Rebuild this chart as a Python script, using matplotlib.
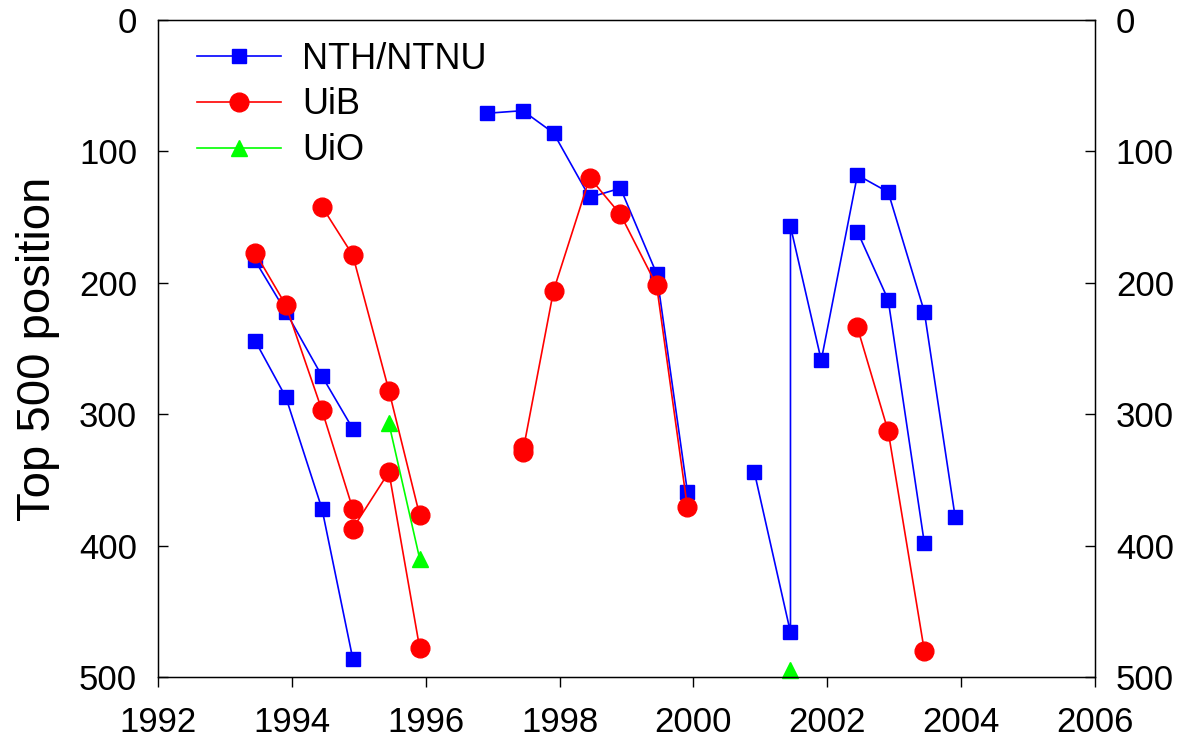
import matplotlib
matplotlib.use("Agg")
import matplotlib.pyplot as plt
import numpy as np

plt.rcParams['font.family'] = ['Liberation Sans', 'DejaVu Sans']

# Top500 list dates (June ~ .45, November ~ .91); nan breaks a line
ntnu_x = np.array([1993.45, 1993.91, 1994.45, 1994.91, np.nan,
                   1993.45, 1993.91, 1994.45, 1994.91, np.nan,
                   1996.91, 1997.45, 1997.91, 1998.45, 1998.91, 1999.45, 1999.91, np.nan,
                   2000.91, 2001.45, 2001.45, 2001.91, 2002.45, 2002.91, 2003.45, 2003.91, np.nan,
                   2002.45, 2002.91, 2003.45])
ntnu_y = np.array([183, 222, 271, 311, np.nan,
                   244, 287, 372, 486, np.nan,
                   71, 69, 86, 135, 128, 193, 359, np.nan,
                   344, 466, 157, 259, 118, 131, 222, 378, np.nan,
                   161, 213, 398])

uib_x = np.array([1993.45, 1993.91, 1994.45, 1994.91, np.nan,
                  1994.45, 1994.91, 1995.45, 1995.91, np.nan,
                  1994.91, 1995.45, 1995.91, np.nan,
                  1997.45, np.nan,
                  1997.45, 1997.91, 1998.45, 1998.91, 1999.45, 1999.91, np.nan,
                  2002.45, 2002.91, 2003.45])
uib_y = np.array([177, 217, 297, 372, np.nan,
                  142, 179, 282, 377, np.nan,
                  387, 344, 478, np.nan,
                  325, np.nan,
                  329, 206, 120, 148, 202, 371, np.nan,
                  234, 313, 480])

uio_x = np.array([1995.45, 1995.91, np.nan, 2001.45])
uio_y = np.array([307, 410, np.nan, 495])

fig = plt.figure(figsize=(11.8, 7.42), dpi=100)
ax = fig.add_axes([158/1180, 1 - 677/742, (1095-158)/1180, (677-20)/742])

ax.plot(ntnu_x, ntnu_y, '-', color='#0000ff', lw=1.2, marker='s', ms=10.5,
        mec='#0000ff', mfc='#0000ff', label='NTH/NTNU', clip_on=False)
ax.plot(uib_x, uib_y, '-', color='#ff0000', lw=1.2, marker='o', ms=13.5,
        mec='#ff0000', mfc='#ff0000', label='UiB', clip_on=False)
ax.plot(uio_x, uio_y, '-', color='#00ff00', lw=1.2, marker='^', ms=12,
        mec='#00ff00', mfc='#00ff00', label='UiO', clip_on=False)

ax.set_xlim(1992, 2006)
ax.set_ylim(500, 0)
ax.set_xticks(np.arange(1992, 2007, 2))
ax.set_yticks(np.arange(0, 501, 100))
ax.tick_params(axis='x', direction='out', length=7, width=1, labelsize=25, pad=14)
ax.tick_params(axis='y', direction='in', length=7, width=1, labelsize=25, pad=15)
ax.set_ylabel('Top 500 position', fontsize=34, labelpad=14)
for s in ax.spines.values():
    s.set_linewidth(1)

ax2 = ax.twinx()
ax2.set_ylim(500, 0)
ax2.set_yticks(np.arange(0, 501, 100))
ax2.tick_params(axis='y', direction='in', length=7, width=1, labelsize=25, pad=15)

ax.legend(loc='upper left', frameon=False, fontsize=26, handlelength=2.3,
          handletextpad=0.6, labelspacing=0.3, borderaxespad=0.2,
          bbox_to_anchor=(0.019, 1.0))

fig.savefig('out.png', dpi=100)
